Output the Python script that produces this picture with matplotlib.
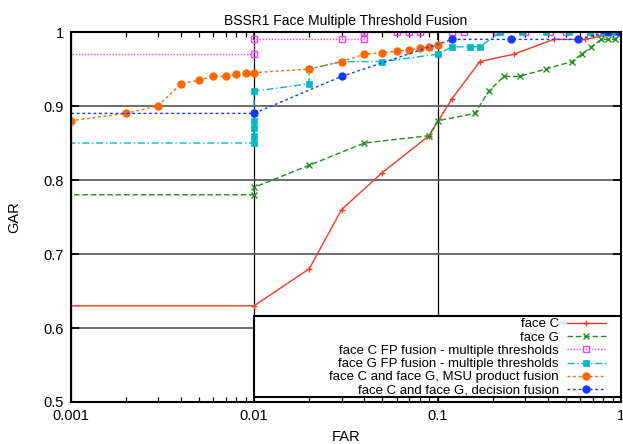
import matplotlib
matplotlib.use("Agg")
import matplotlib.pyplot as plt
from matplotlib.patches import Rectangle
from matplotlib.ticker import FixedLocator, FuncFormatter, LogLocator, NullFormatter

plt.rcParams['font.family'] = ['Liberation Sans', 'DejaVu Sans']

title = "BSSR1 Face Multiple Threshold Fusion"
labels = ["face C", "face G", "face C FP fusion - multiple thresholds",
          "face G FP fusion - multiple thresholds",
          "face C and face G, MSU product fusion",
          "face C and face G, decision fusion"]

far_c = [1e-5, 0.01, 0.02, 0.03, 0.05, 0.09, 0.12, 0.17, 0.26, 0.43, 0.64, 1.0]
gar_c = [0.63, 0.63, 0.68, 0.76, 0.81, 0.86, 0.91, 0.96, 0.97, 0.99, 0.99, 1.0]

far_g = [1e-5, 0.01, 0.01, 0.02, 0.04, 0.09, 0.1, 0.16, 0.19, 0.23, 0.28, 0.39,
         0.54, 0.61, 0.69, 0.78, 0.85, 0.93, 1.0]
gar_g = [0.78, 0.78, 0.79, 0.82, 0.85, 0.86, 0.88, 0.89, 0.92, 0.94, 0.94, 0.95,
         0.96, 0.97, 0.98, 0.99, 0.99, 0.99, 1.0]

far_cfp = [1e-5, 0.01, 0.01, 0.03, 0.04, 0.04, 0.06, 0.07, 0.08, 0.12, 0.14,
           0.21, 0.30, 0.41, 0.50, 0.76, 1.0]
gar_cfp = [0.97, 0.97, 0.99, 0.99, 0.99, 1.0, 1.0, 1.0, 1.0, 1.0, 1.0,
           1.0, 1.0, 1.0, 1.0, 1.0, 1.0]

far_gfp = [1e-5, 0.01, 0.01, 0.01, 0.01, 0.01, 0.01, 0.02, 0.02, 0.03, 0.05,
           0.1, 0.12, 0.15, 0.17, 0.22, 0.29, 0.39, 0.52, 0.68, 0.80, 0.92]
gar_gfp = [0.85, 0.85, 0.86, 0.87, 0.88, 0.89, 0.92, 0.93, 0.95, 0.96, 0.96,
           0.97, 0.98, 0.98, 0.98, 1.0, 1.0, 1.0, 1.0, 1.0, 1.0, 1.0]

far_prod = [0.001, 0.002, 0.003, 0.004, 0.005, 0.006, 0.007, 0.008, 0.009, 0.01,
            0.02, 0.03, 0.04, 0.05, 0.06, 0.07, 0.08, 0.09, 0.1]
gar_prod = [0.88, 0.89, 0.90, 0.93, 0.935, 0.94, 0.94, 0.943, 0.944, 0.945,
            0.95, 0.96, 0.97, 0.972, 0.974, 0.976, 0.978, 0.98, 0.982]

far_dec = [1e-5, 0.01, 0.03, 0.12, 0.25, 0.58, 0.85, 0.97]
gar_dec = [0.89, 0.89, 0.94, 0.99, 0.99, 0.99, 1.0, 1.0]

xticks = [0.001, 0.01, 0.1, 1]
yticks = [0.5, 0.6, 0.7, 0.8, 0.9, 1.0]

fig = plt.figure(figsize=(6.23, 4.44), dpi=100)
ax = fig.add_axes([0.1132, 0.0946, 0.8836, 0.8333])
ax.set_xscale('log')
ax.set_xlim(0.001, 1)
ax.set_ylim(0.5, 1)

ax.xaxis.set_major_locator(FixedLocator(xticks))
ax.xaxis.set_major_formatter(FuncFormatter(lambda v, p: '%g' % v))
ax.xaxis.set_minor_locator(LogLocator(base=10, subs=range(2, 10)))
ax.xaxis.set_minor_formatter(NullFormatter())
ax.yaxis.set_major_locator(FixedLocator(yticks))
ax.yaxis.set_major_formatter(FuncFormatter(lambda v, p: '%g' % v))

ax.tick_params(which='both', direction='in', top=True, right=True, labelsize=10.5,
               colors='black')
ax.tick_params(which='major', length=6, width=1.2, pad=5)
ax.tick_params(which='minor', length=3.5, width=0.9)
for s in ax.spines.values():
    s.set_linewidth(1.5)

ax.grid(True, which='major', axis='y', color='#555555', lw=1.2)
ax.grid(True, which='major', axis='x', color='black', lw=0.9)
ax.set_axisbelow(True)

ms = 4.6
h1, = ax.plot(far_c, gar_c, color='#f03a24', lw=1.0, ls='-', marker='+', ms=ms + 0.4, mew=1.0)
h2, = ax.plot(far_g, gar_g, color='#1f8f1f', lw=1.0, ls=(0, (4, 2)), marker='x', ms=ms, mew=1.0)
h3, = ax.plot(far_cfp, gar_cfp, color='#f040f0', lw=1.0, ls=(0, (1, 1.2)), marker='s', ms=ms + 0.2,
              mfc='none', mew=1.0)
h4, = ax.plot(far_gfp, gar_gfp, color='#00b8c8', lw=1.0, ls=(0, (5, 2, 1, 2)), marker='s', ms=4.1,
              mfc='#00b8c8', mec='#00b8c8', mew=0.5)
h5, = ax.plot(far_prod, gar_prod, color='#ff6600', lw=1.0, ls=(0, (2, 2)), marker='o', ms=ms + 0.4,
              mfc='#ff6600', mec='#ff6600')
h6, = ax.plot(far_dec, gar_dec, color='#1438ff', lw=1.0, ls=(0, (2, 2)), marker='o', ms=ms + 0.4,
              mfc='#1438ff', mec='#1438ff')

# opaque legend box from FAR=0.01 to the right edge
box = Rectangle((0.01, 0.5068), 1 - 0.01, 0.1092, transform=ax.transData,
                facecolor='white', edgecolor='black', lw=1.5, zorder=5, clip_on=False)
ax.add_patch(box)
leg = ax.legend([h1, h2, h3, h4, h5, h6], labels, loc='upper right',
                bbox_to_anchor=(0.973, 0.227), frameon=False, markerfirst=False,
                fontsize=9.5, labelspacing=0.08, handlelength=3.0, handletextpad=0.6,
                borderpad=0.0, borderaxespad=0.0)
leg.set_zorder(6)

ax.set_title(title, fontsize=10, pad=5)
ax.set_xlabel("FAR", fontsize=10.5, labelpad=5)
ax.set_ylabel("GAR", fontsize=10.5, labelpad=16)

fig.savefig("out.png", dpi=100)
